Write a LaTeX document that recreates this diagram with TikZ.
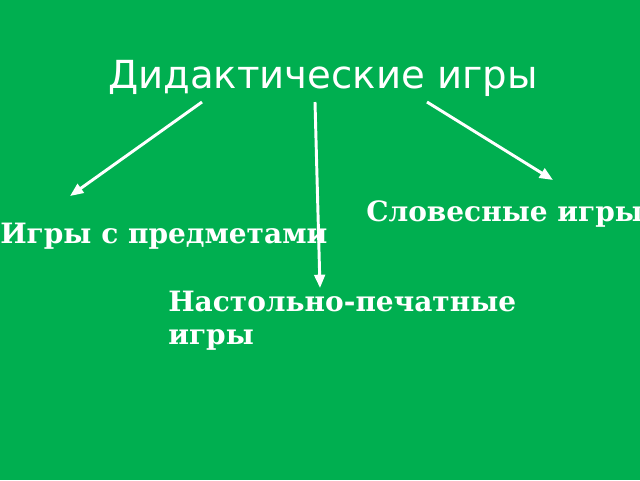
\documentclass[tikz,border=0pt]{standalone}
\usepackage{fontspec}
\newfontfamily\titlefont{DejaVu Sans}
\newfontfamily\labelfont{DejaVu Serif}
\usetikzlibrary{positioning, arrows.meta}
\definecolor{slidegreen}{HTML}{00AF50}

\begin{document}
\begin{tikzpicture}[
                x=0.75pt, y=-0.75pt,
                >={Triangle[length=10pt, width=8pt]},
                heading/.style={text=white, font=\titlefont\fontsize{29}{33}\selectfont, inner sep=0pt},
                kind/.style={text=white, font=\labelfont\bfseries\fontsize{21}{25}\selectfont, inner sep=0pt, anchor=west, align=left},
                link/.style={draw=white, line width=2.2pt, ->},
            ]

                % Background of the slide
                \fill[slidegreen] (0,0) rectangle (640,480);
                \useasboundingbox (0,0) rectangle (640,480);

                % Title and the kinds of games
                \node[heading] (title) at (323,78) {Дидактические игры};
                \node[kind] (objects) at (0,236) {Игры с предметами};
                \node[kind] (verbal) at (366,214) {Словесные игры};
                \node[kind] (board) at (168,321) {Настольно-печатные\\игры};

                % Ends of the arrows
                \coordinate (t-1) at (202,102);
                \coordinate (t-2) at (315,102);
                \coordinate (t-3) at (427,102);
                \coordinate (e-1) at (70,196);
                \coordinate (e-2) at (320,288);
                \coordinate (e-3) at (553,180);

                % Connect the title with every kind
                \foreach \i in {1,2,3}
                    \draw[link] (t-\i) -- (e-\i);
            \end{tikzpicture}
\end{document}
